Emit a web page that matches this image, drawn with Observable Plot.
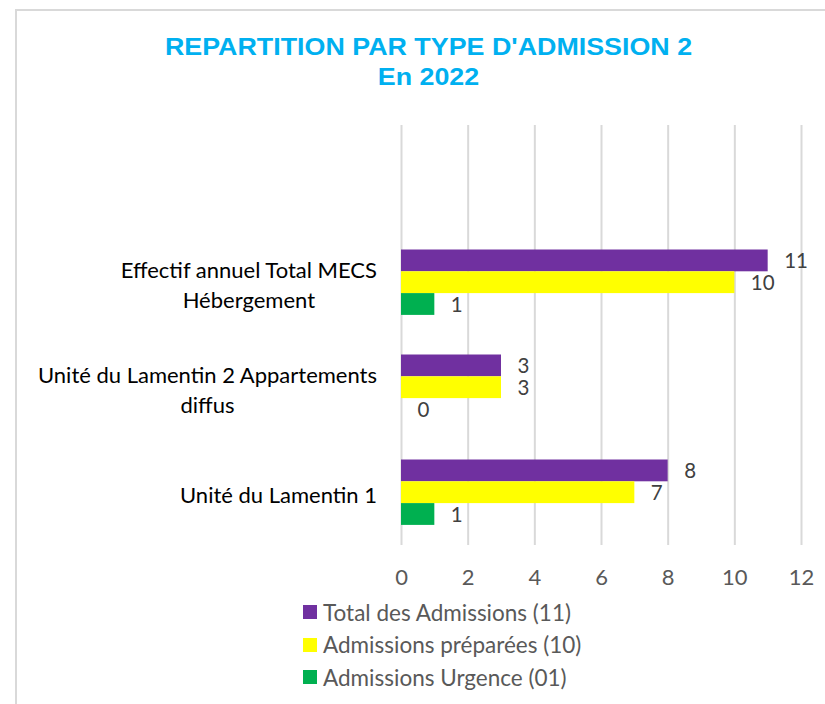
<!DOCTYPE html>
<html>
<head>
<meta charset="utf-8">
<script src="https://cdn.jsdelivr.net/npm/d3@7"></script>
<script src="https://cdn.jsdelivr.net/npm/@observablehq/plot@0.6"></script>
<style>
  html, body { margin: 0; padding: 0; background: #fff; }
  #page { position: relative; width: 825px; height: 704px; overflow: hidden; background: #fff; }
  #frame { position: absolute; left: 15px; top: 9px; width: 900px; height: 800px;
           border-top: 2px solid #D9D9D9; border-left: 2px solid #D9D9D9; }
  #title { position: absolute; left: 0; width: 857px; top: 32px; text-align: center;
           font-family: "Liberation Sans", Arial, sans-serif; font-weight: bold; font-size: 24px;
           line-height: 30px; color: #00B0F0; transform: scaleX(1.118); transform-origin: 428.5px 0; }
  #chart { position: absolute; left: 0; top: 110px; }
  #legend { position: absolute; left: 303px; top: 596px; font-family: Lato, sans-serif;
            font-size: 22.5px; color: #595959; }
  .row { display: flex; align-items: center; height: 32.5px; }
  .sw { width: 14px; height: 14px; margin-right: 6px; }
</style>
</head>
<body>
<div id="page">
  <div id="frame"></div>
  <div id="title"></div>
  <div id="chart"></div>
  <div id="legend"></div>
</div>
<script>
// ---- data ----
const titleLines = ["REPARTITION PAR TYPE D'ADMISSION 2", "En 2022"];
const categories = [
  "Effectif annuel Total MECS Hébergement",
  "Unité du Lamentin 2 Appartements diffus",
  "Unité du Lamentin 1"
];
const categoryLines = [
  "Effectif annuel Total MECS\nHébergement",
  "Unité du Lamentin 2 Appartements\ndiffus",
  "Unité du Lamentin 1"
];
const seriesNames = ["Total des Admissions (11)", "Admissions préparées (10)", "Admissions Urgence (01)"];
const totalAdmissions = [11, 3, 8];
const admissionsPreparees = [10, 3, 7];
const admissionsUrgence = [1, 0, 1];
const seriesColors = ["#7030A0", "#FFFF00", "#00B050"];
const xTicks = [0, 2, 4, 6, 8, 10, 12];

// ---- build ----
document.getElementById("title").innerHTML = titleLines.map(t => `<div>${t}</div>`).join("");

const seriesValues = [totalAdmissions, admissionsPreparees, admissionsUrgence];
const rows = seriesValues.map((vals, s) => categories.map((c, i) => ({cat: c, series: seriesNames[s], value: vals[i]})));

// per-series placement inside each category band (band = 105px)
const insets = [[19.5, 63.7], [41.3, 41.9], [63.1, 20.1]];
const labelDy = [-21.5, 0, 22];

const marks = [
  Plot.gridX({ticks: xTicks, stroke: "#D9D9D9", strokeOpacity: 1, strokeWidth: 2}),
  Plot.axisX({ticks: xTicks, tickSize: 0, tickPadding: 24, fontSize: 22, color: "#595959", label: null})
];
rows.forEach((data, s) => {
  marks.push(Plot.barX(data, {x: "value", y: "cat", fill: seriesColors[s],
    insetTop: insets[s][0], insetBottom: insets[s][1]}));
});
rows.forEach((data, s) => {
  marks.push(Plot.text(data, {x: "value", y: "cat", text: d => String(d.value), dx: 16, dy: labelDy[s],
    textAnchor: "start", fill: "#404040", fontSize: 20.5}));
});
marks.push(Plot.text(categories, {y: d => d, text: (d, i) => categoryLines[i], frameAnchor: "left",
  textAnchor: "middle", dx: -150, fill: "#000", fontSize: 22, lineHeight: 1.36}));

const chart = Plot.plot({
  width: 825,
  height: 480,
  marginTop: 15,
  marginBottom: 45,
  marginLeft: 401,
  marginRight: 24,
  style: {fontFamily: "Lato, sans-serif", background: "transparent", overflow: "visible"},
  x: {domain: [0, 12]},
  y: {domain: ["", ...categories], padding: 0, axis: null},
  marks
});
document.getElementById("chart").appendChild(chart);

// right-align each category label block 24px left of the plot, lines centered within the block
const svgRect = chart.getBoundingClientRect();
const textGroups = chart.querySelectorAll('g[aria-label="text"]');
const catGroup = textGroups[textGroups.length - 1];
catGroup.querySelectorAll("text").forEach(el => {
  const r = el.getBoundingClientRect();
  const shift = 377 - (r.right - svgRect.left);
  el.setAttribute("transform", (el.getAttribute("transform") || "") + ` translate(${shift},0)`);
});

// legend
document.getElementById("legend").innerHTML = seriesNames.map((n, i) =>
  `<div class="row"><div class="sw" style="background:${seriesColors[i]}"></div><span>${n}</span></div>`).join("");
</script>
</body>
</html>
